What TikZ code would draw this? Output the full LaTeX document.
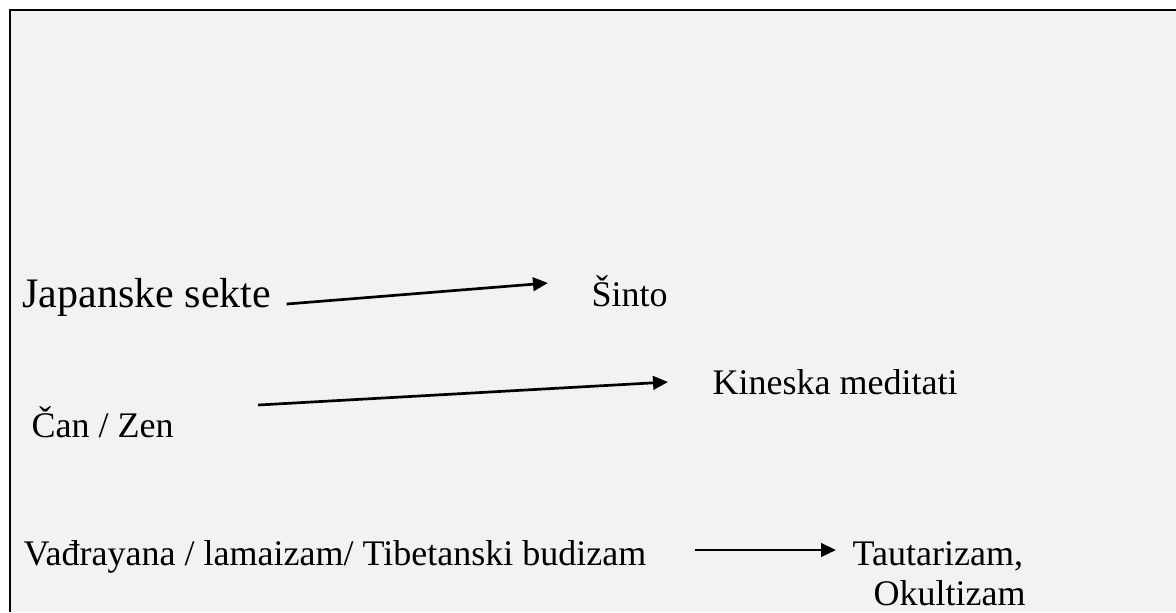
\documentclass[tikz,border=0pt]{standalone}
\usepackage{fontspec}
\setmainfont{Liberation Serif}
\usetikzlibrary{arrows.meta, calc}

\begin{document}
\begin{tikzpicture}[x=0.3333pt, y=-0.3333pt,
    % Define styles
    term/.style={font=\fontsize{12}{13.8}\selectfont, anchor=base west, inner sep=0pt},
    bigterm/.style={term, font=\fontsize{14}{16.1}\selectfont},
    arrow/.style={-{Triangle[length=5pt, width=4.5pt]}, line width=0.9pt},
    frame/.style={line width=0.9pt}
  ]

  % Page and frame (right and bottom edges run off the page)
  \useasboundingbox (0,0) rectangle (1176,612);
  \fill[gray!10] (10,10) rectangle (1176,612);
  \draw[frame] (10,612) -- (10,10) -- (1176,10);

  % Japanese sects
  \node[bigterm] (japan) at (22,307) {Japanske sekte};
  \node[term] (sinto) at (591,306) {Šinto};
  \draw[arrow] ($(japan.base east)+(15,-3)$) -- ($(sinto.base west)+(-43,-23)$);

  % Chan / Zen
  \node[term] (chan) at (31,437) {Čan / Zen};
  \node[term] (china) at (712,394) {Kineska meditati};
  \draw[arrow] ($(chan.base east)+(84,-32)$) -- ($(china.base west)+(-44,-12)$);

  % Vajrayana
  \node[term] (vajra) at (23,565) {Vađrayana / lamaizam/ Tibetanski budizam};
  \node[term] (taut) at (852,565) {Tautarizam,};
  \node[term] (okult) at (873,605) {Okultizam};
  \draw[arrow] ($(vajra.base east)+(48,-15)$) -- ($(taut.base west)+(-16,-15)$);

\end{tikzpicture}
\end{document}
